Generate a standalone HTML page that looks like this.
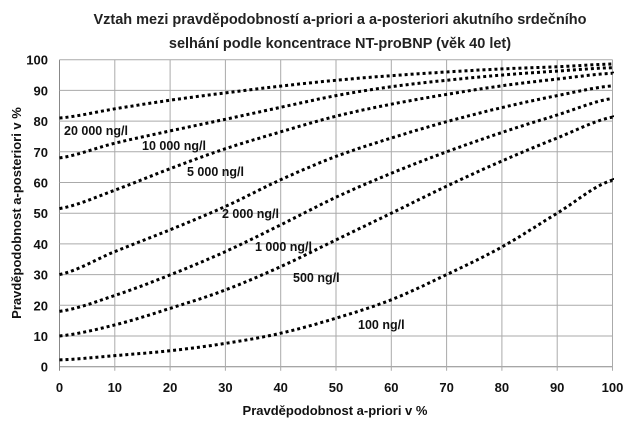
<!DOCTYPE html>
<html><head><meta charset="utf-8"><style>
body{margin:0;background:#fff;}
svg{display:block;font-family:"Liberation Sans",Arial,sans-serif;font-weight:bold;}
</style></head><body>
<svg id="s" width="642" height="423" viewBox="0 0 642 423">
<rect width="642" height="423" fill="#fff"/>
<text x="340" y="24" font-size="14.5" text-anchor="middle" fill="#222">Vztah mezi pravděpodobností a-priori a a-posteriori akutního srdečního</text>
<text x="340" y="48" font-size="14.5" text-anchor="middle" fill="#222">selhání podle koncentrace NT-proBNP (věk 40 let)</text>
<g id="grid"></g>
<g id="curves"></g>
<g font-size="12.5" fill="#111">
<text x="64" y="135">20 000 ng/l</text>
<text x="142" y="150">10 000 ng/l</text>
<text x="187" y="176">5 000 ng/l</text>
<text x="222" y="218">2 000 ng/l</text>
<text x="255" y="251">1 000 ng/l</text>
<text x="293" y="282">500 ng/l</text>
<text x="358" y="329">100 ng/l</text>
</g>
<text x="335" y="415" font-size="13" text-anchor="middle" fill="#111">Pravděpodobnost a-priori v %</text>
<text transform="translate(21,213) rotate(-90)" font-size="13" text-anchor="middle" fill="#111">Pravděpodobnost a-posteriori v %</text>
</svg>
<script>
var X0=59.5,X1=612.5,Y0=366.7,Y1=59.7,ns="http://www.w3.org/2000/svg";
function px(x){return X0+(X1-X0)*x/100;}function py(y){return Y0+(Y1-Y0)*y/100;}
var g=document.getElementById('grid'),c=document.getElementById('curves');
function el(p,t,a,txt){var e=document.createElementNS(ns,t);for(var k in a)e.setAttribute(k,a[k]);if(txt!=null)e.textContent=txt;p.appendChild(e);return e;}
for(var i=0;i<=10;i++){
 var x=px(i*10),y=py(i*10);
 el(g,'line',{x1:X0,x2:X1,y1:y,y2:y,stroke:i==0?'#888':'#aaa','stroke-width':1});
 el(g,'line',{x1:x,x2:x,y1:Y1,y2:Y0+4,stroke:i==0?'#888':'#aaa','stroke-width':1});
 el(g,'text',{x:48,y:y+5,'font-size':13,'text-anchor':'end',fill:'#111'},i*10);
 el(g,'text',{x:x,y:392,'font-size':13,'text-anchor':'middle',fill:'#111'},i*10);
}
var D=[
[81,84,86.8,89.2,91.4,93.3,94.8,96,97,97.7,98.6],
[68,72.8,76.8,80.6,84.5,88.3,91.2,93.3,95,96.3,97.4],
[51.5,57.5,64.5,71,76.5,81.6,85.5,88.7,91.5,93.7,95.6],
[30,37.5,44.6,52.2,60.9,68.5,74.5,79.8,84.4,88.3,91.5],
[18,23.2,29.9,37.5,46.2,55.2,63,70,76.3,82,87.4],
[10,13.6,19,25,32.6,41.3,50,58.8,67,74.5,81.3],
[2.2,3.6,5.2,7.6,10.9,15.8,21.8,30,39,50,60.8]];
D.forEach(function(v){
 var pts=[];
 for(var i=0;i<10;i++){
  var p0=v[Math.max(i-1,0)],p1=v[i],p2=v[i+1],p3=v[Math.min(i+2,10)];
  for(var t=0;t<1;t+=0.1){
   var t2=t*t,t3=t2*t;
   var y=0.5*((2*p1)+(-p0+p2)*t+(2*p0-5*p1+4*p2-p3)*t2+(-p0+3*p1-3*p2+p3)*t3);
   pts.push(px((i+t)*10).toFixed(1)+','+py(y).toFixed(1));
  }
 }
 pts.push(px(100)+','+py(v[10]));
 el(c,'polyline',{points:pts.join(' '),fill:'none',stroke:'#000','stroke-width':3,'stroke-dasharray':'3 3'});
});
</script>
</body></html>
